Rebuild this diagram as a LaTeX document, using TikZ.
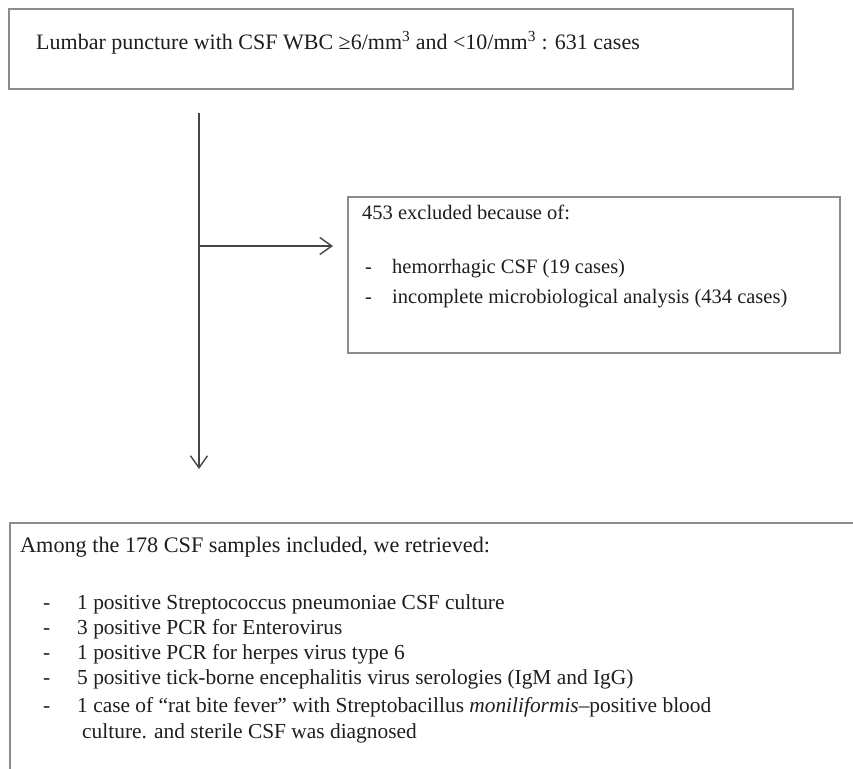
\documentclass[tikz,border=0pt]{standalone}
\usepackage{fontspec}
\setmainfont{Liberation Serif}
\usetikzlibrary{arrows.meta}
\definecolor{boxgray}{RGB}{140,140,140}
\definecolor{linegray}{RGB}{70,70,70}
\definecolor{txt}{RGB}{30,30,30}
\begin{document}
\begin{tikzpicture}[x=1pt,y=-1pt,
  box/.style={draw=boxgray, line width=1.6pt, rectangle, inner sep=0pt, anchor=north west},
  lbl/.style={anchor=base west, inner sep=0pt, text=txt},
  flow/.style={draw=linegray, line width=1.4pt, -{Straight Barb[length=12pt,width=17pt,line width=1.4pt]}},
  flowline/.style={draw=linegray, line width=1.4pt}
]
\useasboundingbox (0,0) rectangle (853,768);
\fill[white] (0,0) rectangle (853,768);
\clip (0,0) rectangle (853,768);

% boxes
\node[box, minimum width=784pt, minimum height=80pt] (topbox) at (8,8) {};
\node[box, minimum width=492pt, minimum height=156pt] (exclbox) at (347,196) {};
\node[box, minimum width=880pt, minimum height=300pt] (inclbox) at (9,522) {};

% top text
\node[lbl, font=\fontsize{22}{26}\selectfont] (t1) at (36,49)
  {Lumbar puncture with CSF WBC ≥6/mm\textsuperscript{3} and <10/mm\textsuperscript{3} : 631 cases};

% exclusion text
\begin{scope}[every node/.append style={font=\fontsize{20.5}{24}\selectfont}]
\node[lbl] (e0) at (362,219) {453 excluded because of:};
\node[lbl] (e1d) at (365,273) {-};
\node[lbl] (e1) at (392,273) {hemorrhagic CSF (19 cases)};
\node[lbl] (e2d) at (365,303) {-};
\node[lbl] (e2) at (392,303) {incomplete microbiological analysis (434 cases)};
\end{scope}

% inclusion text
\node[lbl, font=\fontsize{22.2}{26}\selectfont] (i0) at (20,552) {Among the 178 CSF samples included, we retrieved:};
\begin{scope}[every node/.append style={font=\fontsize{21.4}{25}\selectfont}]
\node[lbl] (i1d) at (43,609) {-};
\node[lbl] (i1) at (77,609) {1 positive Streptococcus pneumoniae CSF culture};
\node[lbl] (i2d) at (43,634) {-};
\node[lbl] (i2) at (77,634) {3 positive PCR for Enterovirus};
\node[lbl] (i3d) at (43,659) {-};
\node[lbl] (i3) at (77,659) {1 positive PCR for herpes virus type 6};
\node[lbl] (i4d) at (43,684) {-};
\node[lbl] (i4) at (77,684) {5 positive tick-borne encephalitis virus serologies (IgM and IgG)};
\node[lbl] (i5d) at (43,712) {-};
\node[lbl] (i5) at (77,712) {1 case of “rat bite fever” with Streptobacillus \textit{moniliformis}–positive blood};
\node[lbl] (i6) at (82,738) {culture. and sterile CSF was diagnosed};
\end{scope}

% connectors
\coordinate (vtop) at (199,113);
\coordinate (vend) at (199,469);
\coordinate (hstart) at (199,246);
\coordinate (hend) at (333,246);
\draw[flow] (vtop) -- (vend);
\draw[flow] (hstart) -- (hend);
\end{tikzpicture}
\end{document}
